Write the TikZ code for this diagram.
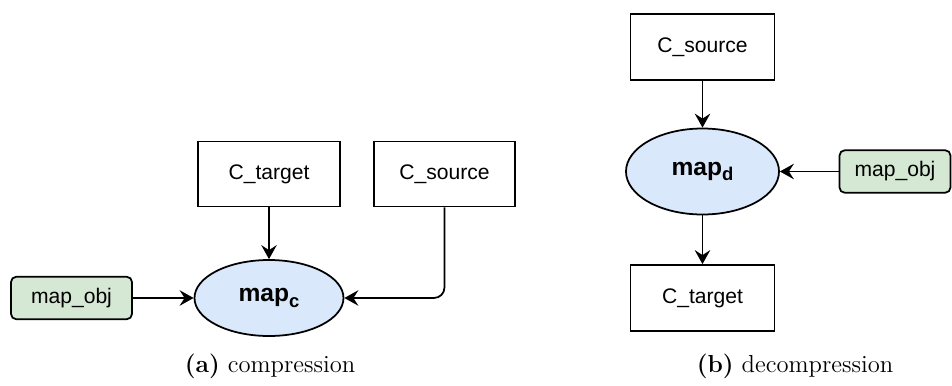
\documentclass[tikz,border=0pt]{standalone}
\usepackage{fontspec}
\newfontfamily\boxfont{Liberation Sans}
\usepackage{tikz}
\usetikzlibrary{arrows.meta}
\usetikzlibrary{shapes.geometric}
\definecolor{mapblue}{HTML}{DAE8FC}
\definecolor{objgreen}{HTML}{D5E8D4}
\newcommand{\mapsub}[1]{\raisebox{-0.45ex}{\fontsize{10.5}{12}\selectfont #1}}

\begin{document}
\begin{tikzpicture}[
						boxnode/.style={rectangle, draw=black, line width=1pt, fill=white, minimum width=2.84cm, minimum height=1.3cm, font=\boxfont\fontsize{12}{14}\selectfont},
						mapnode/.style={ellipse, draw=black, line width=1pt, fill=mapblue, inner sep=0pt, font=\boxfont\bfseries\fontsize{14}{16}\selectfont},
						objnode/.style={rectangle, rounded corners=3pt, draw=black, line width=1pt, fill=objgreen, minimum height=0.85cm, font=\boxfont\fontsize{12}{14}\selectfont},
						arr/.style={-{Stealth[length=2.8mm,width=3.1mm,inset=1mm]}, line width=1pt},
						capnode/.style={font=\fontsize{14}{16}\selectfont},
						]
						\useasboundingbox (0,0) rectangle (19.04,-7.7);
						%Nodes (a)
						\node[boxnode]      (ctgta) 	at 	(5.38,-3.48)    {C\_target};
						\node[boxnode, minimum width=2.82cm]      (csrca) 	at 	(8.89,-3.48)    {C\_source};
						\node[mapnode, minimum width=2.98cm, minimum height=1.52cm]      (mapc) 	at 	(5.38,-5.96)    {map\mapsub{c}};
						\node[objnode, minimum width=2.42cm]      (obja) 	at 	(1.43,-5.96)    {map\_obj};
						\node[capnode]      (capa) 	at 	(5.4,-7.32)    {\textbf{(a)} compression};
						%Nodes (b)
						\node[boxnode, minimum width=2.88cm, minimum height=1.32cm]      (csrcb) 	at 	(14.05,-0.94)   {C\_source};
						\node[mapnode, minimum width=3.06cm, minimum height=1.72cm]      (mapd) 	at 	(14.05,-3.43)   {map\mapsub{d}};
						\node[objnode, minimum width=2.22cm]      (objb) 	at 	(17.9,-3.43)    {map\_obj};
						\node[boxnode, minimum width=2.88cm, minimum height=1.32cm]      (ctgtb) 	at 	(14.05,-5.96)   {C\_target};
						\node[capnode]      (capb) 	at 	(15.9,-7.32)    {\textbf{(b)} decompression};
						
						%Edges
						\draw[arr] (ctgta) -- (mapc);
						\draw[arr, rounded corners=6pt] (csrca.south) |- (mapc.east);
						\draw[arr] (obja) -- (mapc);
						\draw[arr] (csrcb) -- (mapd);
						\draw[arr] (mapd) -- (ctgtb);
						\draw[arr] (objb) -- (mapd);
					\end{tikzpicture}
\end{document}
